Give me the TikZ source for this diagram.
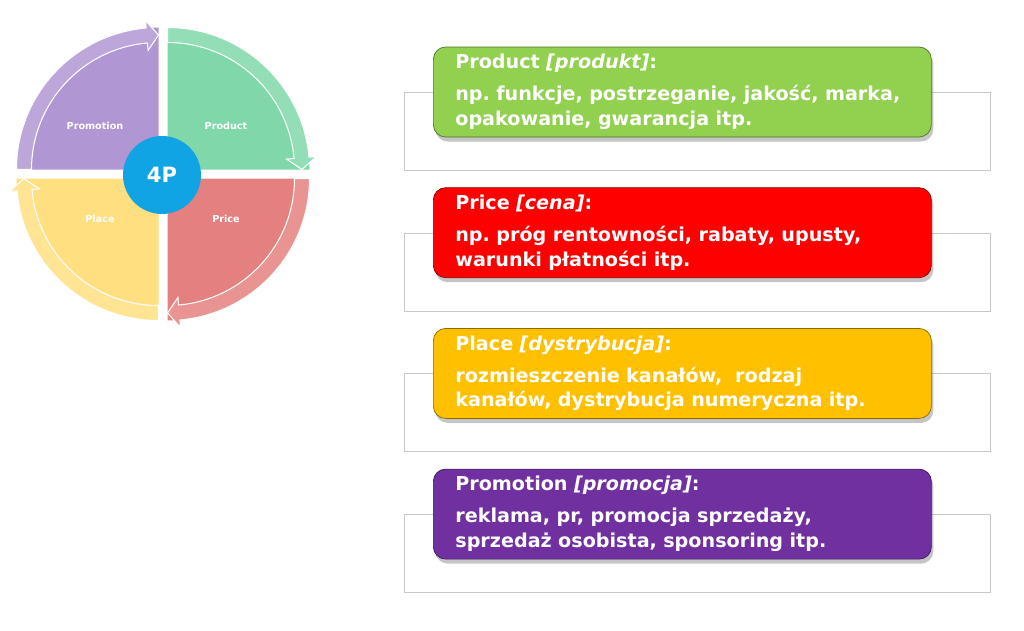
\documentclass[tikz,border=0pt]{standalone}
\usepackage{fontspec}
\setsansfont{DejaVu Sans}
\usetikzlibrary{positioning,shadows}
\definecolor{fourpcyan}{RGB}{17,164,228}
\definecolor{quadpurple}{RGB}{177,150,212}
\definecolor{quadgreen}{RGB}{128,216,170}
\definecolor{quadred}{RGB}{229,128,128}
\definecolor{quadyellow}{RGB}{255,223,128}
\definecolor{cardgreen}{RGB}{146,208,80}
\definecolor{cardred}{RGB}{255,0,0}
\definecolor{cardorange}{RGB}{255,192,0}
\definecolor{cardpurple}{RGB}{112,48,160}
\definecolor{panelgray}{RGB}{200,200,200}
\frenchspacing

\begin{document}
\begin{tikzpicture}[
    panel/.style={rectangle, draw=panelgray, fill=white, minimum width=11.72cm, minimum height=1.56cm, inner sep=0pt},
    card/.style={rectangle, rounded corners=7pt, thin, text=white, align=left, minimum width=9.96cm, minimum height=1.8cm, text width=9.08cm, inner xsep=0.44cm, font=\sffamily\bfseries\fontsize{10.9}{14.2}\selectfont, drop shadow={shadow xshift=0.04cm, shadow yshift=-0.09cm, opacity=0.45}},
    slab/.style={text=white, font=\sffamily\bfseries\fontsize{5.5}{6}\selectfont},
    band/.style={draw=white, line width=0.6pt}
  ]
    \useasboundingbox (0,0) rectangle (20.48,12.6);

    \begin{scope}[shift={(3.17,9.21)}]
      \fill[quadpurple] (0,0) -- (180:2.84) arc[start angle=180, end angle=90, radius=2.84] -- cycle;
      \filldraw[band, fill=quadpurple!85!white] (180:2.84) arc[start angle=180, end angle=95, radius=2.84] -- (95:2.99) -- (90:2.69) -- (95:2.39) -- (95:2.54) arc[start angle=95, end angle=180, radius=2.54] -- cycle;
    \end{scope}
    \begin{scope}[shift={(3.35,9.21)}]
      \fill[quadgreen] (0,0) -- (90:2.84) arc[start angle=90, end angle=0, radius=2.84] -- cycle;
      \filldraw[band, fill=quadgreen!85!white] (90:2.84) arc[start angle=90, end angle=5, radius=2.84] -- (5:2.99) -- (0:2.69) -- (5:2.39) -- (5:2.54) arc[start angle=5, end angle=90, radius=2.54] -- cycle;
    \end{scope}
    \begin{scope}[shift={(3.35,9.03)}]
      \fill[quadred] (0,0) -- (0:2.84) arc[start angle=0, end angle=-90, radius=2.84] -- cycle;
      \filldraw[band, fill=quadred!85!white] (0:2.84) arc[start angle=0, end angle=-85, radius=2.84] -- (-85:2.99) -- (-90:2.69) -- (-85:2.39) -- (-85:2.54) arc[start angle=-85, end angle=0, radius=2.54] -- cycle;
    \end{scope}
    \begin{scope}[shift={(3.17,9.03)}]
      \fill[quadyellow] (0,0) -- (270:2.84) arc[start angle=270, end angle=180, radius=2.84] -- cycle;
      \filldraw[band, fill=quadyellow!85!white] (270:2.84) arc[start angle=270, end angle=185, radius=2.84] -- (185:2.99) -- (180:2.69) -- (185:2.39) -- (185:2.54) arc[start angle=185, end angle=270, radius=2.54] -- cycle;
    \end{scope}

    \node[slab] (promolab) at (1.9,10.08) {Promotion};
    \node[slab] (prodlab) at (4.52,10.08) {Product};
    \node[slab] (placelab) at (2.0,8.22) {Place};
    \node[slab] (pricelab) at (4.52,8.22) {Price};
    \node[circle, fill=fourpcyan, minimum size=1.56cm, inner sep=0pt, text=white, font=\sffamily\bfseries\fontsize{12}{14}\selectfont] (core) at (3.24,9.1) {4P};

    \node[panel, anchor=north west] (pprod) at (8.08,10.76) {};
    \node[panel, below=1.24cm of pprod] (pprice) {};
    \node[panel, below=1.24cm of pprice] (pplace) {};
    \node[panel, below=1.24cm of pplace] (ppromo) {};

    \node[card, fill=cardgreen, draw=cardgreen!55!black, anchor=west] (prod) at ([xshift=0.58cm]pprod.north west) {Product \textit{[produkt]}:\\[3.9pt] np. funkcje, postrzeganie, jakość, marka,\\ opakowanie, gwarancja itp.};
    \node[card, fill=cardred, draw=cardred!55!black, anchor=west] (price) at ([xshift=0.58cm]pprice.north west) {Price \textit{[cena]}:\\[3.9pt] np. próg rentowności, rabaty, upusty,\\ warunki płatności itp.};
    \node[card, fill=cardorange, draw=cardorange!55!black, anchor=west] (place) at ([xshift=0.58cm]pplace.north west) {Place \textit{[dystrybucja]}:\\[3.9pt] rozmieszczenie kanałów,~ rodzaj\\ kanałów, dystrybucja numeryczna itp.};
    \node[card, fill=cardpurple, draw=cardpurple!55!black, anchor=west] (promo) at ([xshift=0.58cm]ppromo.north west) {Promotion \textit{[promocja]}:\\[3.9pt] reklama, pr, promocja sprzedaży,\\ sprzedaż osobista, sponsoring itp.};
  \end{tikzpicture}
\end{document}
